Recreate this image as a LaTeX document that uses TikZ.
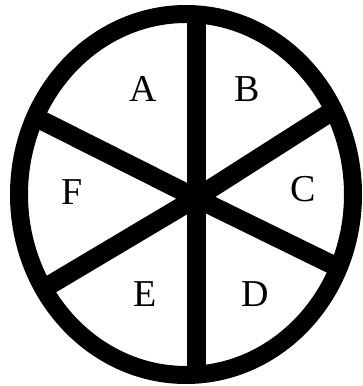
\documentclass[tikz,border=0pt]{standalone}
\usepackage{fontspec}
\setmainfont{Liberation Serif}
\tikzset{
  rim/.style={line width=18pt},
  spoke/.style={line width=19pt},
  sector/.style={font=\fontsize{38}{38}\selectfont, inner sep=0pt}
}
\begin{document}
\begin{tikzpicture}[x=1pt,y=-1pt]
    \useasboundingbox (0,0) rectangle (362,386);
    \coordinate (hub) at (196,198);
    \coordinate (N) at (196,14);
    \coordinate (S) at (196,375);
    \coordinate (NW) at (35,117);
    \coordinate (SW) at (43,289);
    \coordinate (NE) at (334,110);
    \coordinate (SE) at (339,268);
    % spokes
    \draw[spoke] (N) -- (S);
    \draw[spoke] (NW) -- (hub) -- (SE);
    \draw[spoke] (SW) -- (hub) -- (NE);
    % rim
    \draw[rim] (186,194.5) ellipse[x radius=167, y radius=180.5];
    \node[sector] (A) at (143,89) {A};
    \node[sector] (B) at (247,89) {B};
    \node[sector] (C) at (303,189) {C};
    \node[sector] (D) at (255,294) {D};
    \node[sector] (E) at (145,294) {E};
    \node[sector] (F) at (72,192) {F};
\end{tikzpicture}
\end{document}
